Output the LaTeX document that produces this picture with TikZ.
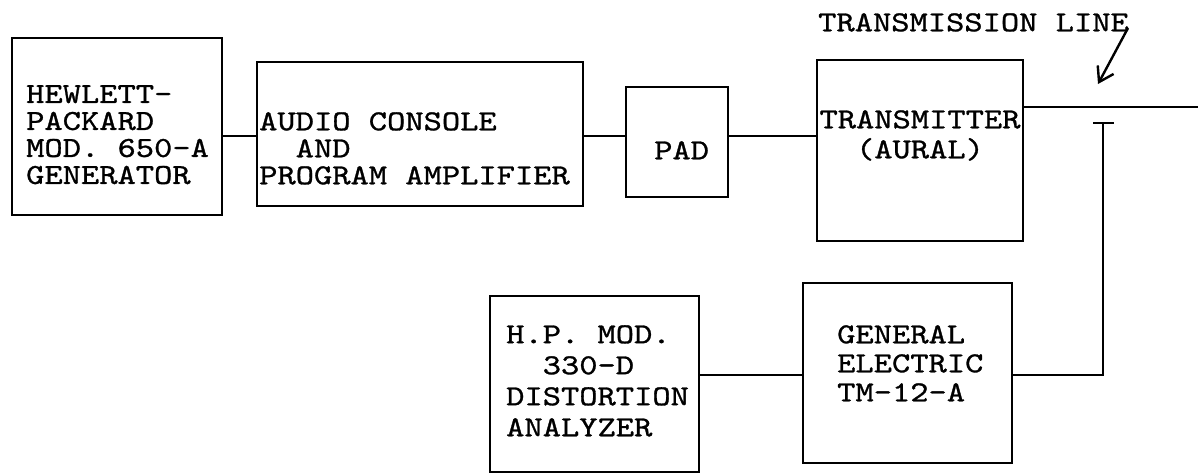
\documentclass[tikz,border=0pt]{standalone}
\usepackage{fontspec}
\usetikzlibrary{arrows.meta}
\newfontfamily\tw{lmmono10-regular.otf}[FakeStretch=1.2,FakeBold=1]
\tikzset{
  box/.style={draw, line width=2.6pt, inner sep=0pt},
  wire/.style={line width=2.4pt},
  lbl/.style={inner sep=0pt, anchor=north west, align=left},
}
\begin{document}
\begin{tikzpicture}[x=1pt,y=-1pt]
\useasboundingbox[fill=white] (0,0) rectangle (1198,475);
% boxes
\node[box, minimum width=210pt, minimum height=177pt] (gen) at (117,126.5) {};
\node[box, minimum width=326pt, minimum height=144pt] (aud) at (420,134) {};
\node[box, minimum width=102pt, minimum height=110pt] (pad) at (677,142) {};
\node[box, minimum width=206pt, minimum height=181pt] (tx) at (920,150.5) {};
\node[box, minimum width=209pt, minimum height=176pt] (dist) at (594.5,384) {};
\node[box, minimum width=209pt, minimum height=180pt] (ge) at (907.5,373) {};
% texts
\node[lbl, font=\tw\fontsize{29}{27}\selectfont] (tgen) at (26,85)
  {HEWLETT-\\PACKARD\\MOD. 650-A\\GENERATOR};
\node[lbl, font=\tw\fontsize{29}{27}\selectfont] (taud) at (259,112)
  {AUDIO CONSOLE\\\phantom{AU}AND\\PROGRAM AMPLIFIER};
\node[lbl, font=\tw\fontsize{29}{27}\selectfont] (tpad) at (654,141) {PAD};
\node[inner sep=0pt, anchor=north, align=center, font=\tw\fontsize{29}{30}\selectfont] (ttx) at (920,110)
  {TRANSMITTER\\(AURAL)};
\node[lbl, font=\tw\fontsize{29}{31}\selectfont] (tdist) at (506,325)
  {H.P. MOD.\\\phantom{H.}330-D\\DISTORTION\\ANALYZER};
\node[lbl, font=\tw\fontsize{29}{29}\selectfont] (tge) at (837,325)
  {GENERAL\\ELECTRIC\\TM-12-A};
\node[lbl, font=\tw\fontsize{29}{29}\selectfont] (tline) at (818,13) {TRANSMISSION LINE};
% connector rows
\coordinate (r1) at (0,136);
\coordinate (r2) at (0,107);
\coordinate (r3) at (0,375);
\coordinate (lineend) at (1198,107);
\coordinate (tee) at (1103,123);
\coordinate (teeL) at (1093,123);
\coordinate (teeR) at (1114,123);
\coordinate (bend) at (1103,375);
\coordinate (arrS) at (1128,28);
\coordinate (arrE) at (1098,84);
% connectors
\draw[wire] (gen.east |- r1) -- (aud.west |- r1);
\draw[wire] (aud.east |- r1) -- (pad.west |- r1);
\draw[wire] (pad.east |- r1) -- (tx.west |- r1);
\draw[wire] (tx.east |- r2) -- (lineend);
\draw[wire] (teeL) -- (teeR);
\draw[wire] (tee) -- (bend) -- (ge.east |- r3);
\draw[wire] (ge.west |- r3) -- (dist.east |- r3);
\draw[wire, -{Straight Barb[length=14pt,width=18pt,line width=2.4pt]}] (arrS) -- (arrE);
\end{tikzpicture}
\end{document}
